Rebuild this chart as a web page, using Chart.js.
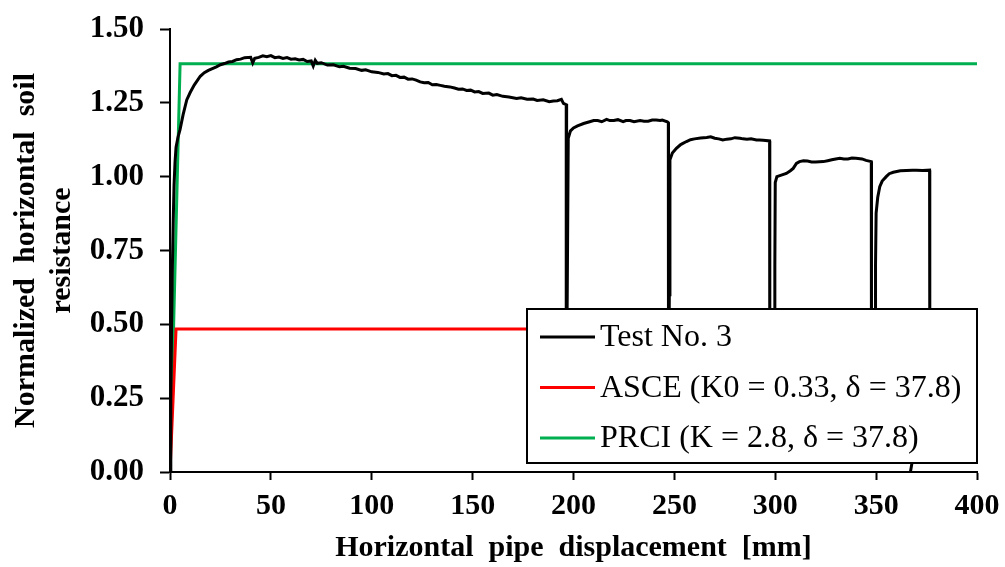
<!DOCTYPE html>
<html>
<head>
<meta charset="utf-8">
<script src="https://cdn.jsdelivr.net/npm/chart.js@4/dist/chart.umd.min.js"></script>
<style>
  html, body { margin: 0; padding: 0; background: #fff; }
  #wrap { width: 1005px; height: 567px; }
</style>
</head>
<body>
<div id="wrap"><canvas id="c" width="1005" height="567"></canvas></div>
<script>
// ---- Data ----
const seriesLabels = ['Test No. 3', 'ASCE (K0 = 0.33, \u03b4 = 37.8)', 'PRCI (K = 2.8, \u03b4 = 37.8)'];

const testX = [
  0, 0.4, 0.8, 1.2, 1.6, 2, 2.5, 3, 4, 5, 6.5, 8.3, 10, 12, 15, 17, 19, 21, 23, 25, 27, 29, 31, 33, 35, 37, 40, 41, 42, 44, 46, 48, 50, 52, 54, 56, 58, 60, 62, 64, 66, 68, 70, 71, 72, 73, 75, 78, 81, 84, 86, 89, 92, 95, 97, 100, 103, 106, 108, 110, 112, 114, 116, 118, 120, 122, 124, 126, 128, 130, 132, 134, 136, 138.7, 141, 143, 145, 147, 149, 151, 153, 155, 158, 160, 162, 165, 168, 171.8, 174, 177, 180, 182, 185, 188, 190, 192, 194, 195, 196.6,
  196.4, 196.9, 197.4, 198.5, 200, 202, 205, 208, 210, 212, 214, 216.4, 218, 220, 222, 224.6, 226, 228, 230, 233, 235, 237, 239, 241, 243, 244, 246.5, 247,
  247.1, 247.5, 247.8, 249, 251, 253, 254, 256, 258, 260, 263, 266, 268, 270, 272, 274, 276, 278, 280, 282.5, 284, 286, 288, 290.7, 292, 294, 297.2,
  297.3, 299.6, 299.8, 300, 300.8, 303, 305.5, 307.5, 308.9, 310.5, 312, 314, 316, 318, 320, 323.8, 326, 328, 330, 332, 334, 336, 338, 340, 343, 345, 347.6,
  347.7, 349.5, 349.7, 350, 350.8, 351.8, 353, 355, 356.5, 358.5, 362, 365, 368, 370, 373, 376.5,
  376.6, 376.2, 373, 368, 367
];
const testY = [
  0, 0.25, 0.5, 0.7, 0.85, 0.97, 1.05, 1.1, 1.135, 1.16, 1.21, 1.26, 1.285, 1.31, 1.34, 1.352, 1.36, 1.366, 1.372, 1.379, 1.383, 1.388, 1.39, 1.396, 1.398, 1.403, 1.404, 1.385, 1.401, 1.404, 1.409, 1.406, 1.41, 1.403, 1.405, 1.4, 1.403, 1.398, 1.399, 1.395, 1.397, 1.39, 1.392, 1.375, 1.394, 1.384, 1.386, 1.378, 1.379, 1.372, 1.374, 1.367, 1.366, 1.36, 1.362, 1.355, 1.353, 1.348, 1.349, 1.342, 1.343, 1.336, 1.337, 1.33, 1.331, 1.327, 1.321, 1.318, 1.319, 1.311, 1.312, 1.309, 1.306, 1.304, 1.3, 1.296, 1.297, 1.292, 1.293, 1.287, 1.288, 1.282, 1.283, 1.276, 1.278, 1.272, 1.27, 1.265, 1.267, 1.262, 1.263, 1.258, 1.26, 1.254, 1.256, 1.257, 1.262, 1.248, 1.243,
  0.2, 0.6, 1.13, 1.155, 1.165, 1.172, 1.18, 1.186, 1.19, 1.19, 1.186, 1.194, 1.19, 1.19, 1.193, 1.186, 1.19, 1.19, 1.186, 1.19, 1.188, 1.188, 1.192, 1.192, 1.19, 1.192, 1.186, 1.183,
  0.2, 0.6, 1.057, 1.08, 1.096, 1.108, 1.112, 1.119, 1.125, 1.128, 1.131, 1.133, 1.135, 1.13, 1.128, 1.124, 1.127, 1.128, 1.132, 1.13, 1.128, 1.127, 1.128, 1.124, 1.124, 1.123, 1.121,
  0.2, 0.3, 0.7, 0.98, 1.0, 1.005, 1.011, 1.02, 1.028, 1.045, 1.051, 1.054, 1.053, 1.05, 1.05, 1.051, 1.054, 1.057, 1.06, 1.062, 1.06, 1.06, 1.063, 1.062, 1.06, 1.055, 1.051,
  0.2, 0.3, 0.7, 0.877, 0.93, 0.966, 0.985, 1.0, 1.01, 1.015, 1.02, 1.021, 1.022, 1.022, 1.021, 1.022,
  0.4, 0.2, 0.1, 0.04, 0
];
const asceX = [0, 3, 400];
const asceY = [0, 0.484, 0.484];
const prciX = [0, 5, 400];
const prciY = [0, 1.382, 1.382];

const xTickValues = [0, 50, 100, 150, 200, 250, 300, 350, 400];
const yTickValues = [0, 0.25, 0.5, 0.75, 1.0, 1.25, 1.5];
const xTitle = 'Horizontal  pipe  displacement  [mm]';
const yTitle = ['Normalized  horizontal  soil', 'resistance'];

const toPts = (xs, ys) => xs.map((x, i) => ({ x: x, y: ys[i] }));

const SERIF = '"Liberation Serif", "Times New Roman", serif';

const legendBox = {
  id: 'legendBox',
  afterDatasetsDraw(chart) {
    const { ctx, chartArea } = chart;
    const w = 450, h = 154;
    const right = chartArea.right, bottom = chartArea.bottom - 9;
    const left = right - w, top = bottom - h;
    ctx.save();
    ctx.fillStyle = '#fff';
    ctx.fillRect(left, top, w, h);
    ctx.strokeStyle = '#000';
    ctx.lineWidth = 2;
    ctx.strokeRect(left, top, w, h);
    chart.data.datasets.forEach((ds, i) => {
      const y = top + 28 + i * 50.5;
      ctx.strokeStyle = ds.borderColor;
      ctx.lineWidth = 3;
      ctx.beginPath();
      ctx.moveTo(left + 13, y);
      ctx.lineTo(left + 68, y);
      ctx.stroke();
      ctx.fillStyle = '#000';
      ctx.font = '32px ' + SERIF;
      ctx.textBaseline = 'middle';
      ctx.textAlign = 'left';
      ctx.fillText(ds.label, left + 73, y + 1);
    });
    ctx.restore();
  }
};

new Chart(document.getElementById('c'), {
  type: 'scatter',
  data: {
    datasets: [
      { label: seriesLabels[0], data: toPts(testX, testY), showLine: true, borderColor: '#000000', borderWidth: 3, pointRadius: 0, tension: 0 },
      { label: seriesLabels[1], data: toPts(asceX, asceY), showLine: true, borderColor: '#FF0000', borderWidth: 3, pointRadius: 0 },
      { label: seriesLabels[2], data: toPts(prciX, prciY), showLine: true, borderColor: '#00B050', borderWidth: 3, pointRadius: 0 }
    ]
  },
  options: {
    responsive: false,
    animation: false,
    devicePixelRatio: 1,
    layout: { padding: { top: 29, right: 28, left: 0, bottom: 0 } },
    plugins: { legend: { display: false }, tooltip: { enabled: false } },
    scales: {
      x: {
        type: 'linear', min: 0, max: 400,
        afterBuildTicks: (s) => { s.ticks = xTickValues.map(v => ({ value: v })); },
        afterFit: (s) => { s.height = 95; s.paddingLeft = 0; s.paddingRight = 0; },
        grid: { display: true, drawOnChartArea: false, drawTicks: true, tickLength: 8, tickWidth: 2, tickColor: '#000' },
        border: { display: true, color: '#000', width: 2 },
        ticks: { color: '#000', font: { family: SERIF, size: 30, weight: 'bold' }, padding: 8, maxRotation: 0, autoSkip: false, callback: (v) => String(v) },
        title: { display: true, text: xTitle, color: '#000', font: { family: SERIF, size: 30, weight: 'bold', lineHeight: 1.2 }, padding: { top: 0, bottom: 1 } }
      },
      y: {
        type: 'linear', min: 0, max: 1.5,
        afterBuildTicks: (s) => { s.ticks = yTickValues.map(v => ({ value: v })); },
        afterFit: (s) => { s.width = 170; s.paddingTop = 0; s.paddingBottom = 0; },
        grid: { display: true, drawOnChartArea: false, drawTicks: true, tickLength: 10, tickWidth: 2, tickColor: '#000' },
        border: { display: true, color: '#000', width: 2 },
        ticks: { color: '#000', font: { family: SERIF, size: 31, weight: 'bold' }, padding: 16, autoSkip: false, callback: (v) => Number(v).toFixed(2) },
        title: { display: true, text: yTitle, color: '#000', font: { family: SERIF, size: 30, weight: 'bold', lineHeight: 1.2 }, padding: { top: 8, bottom: 0 } }
      }
    }
  },
  plugins: [legendBox]
});
</script>
</body>
</html>
